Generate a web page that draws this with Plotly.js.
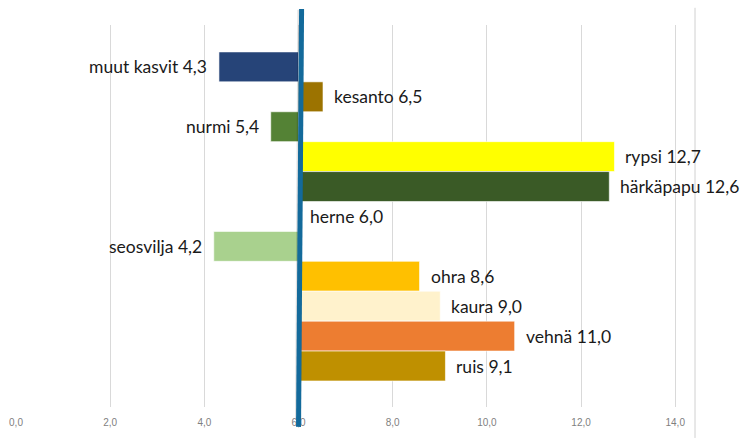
<!DOCTYPE html>
<html>
<head>
<meta charset="utf-8">
<script src="https://cdn.plot.ly/plotly-3.0.1.min.js"></script>
<style>html,body{margin:0;padding:0;background:#fff;}#chart{width:742px;height:438px;}</style>
</head>
<body>
<div id="chart"></div>
<script>
// Data
const categories = ["muut kasvit", "kesanto", "nurmi", "rypsi", "härkäpapu", "herne", "seosvilja", "ohra", "kaura", "vehnä", "ruis"];
const barEnds = [4.31, 6.52, 5.41, 12.71, 12.60, 6.0, 4.20, 8.57, 9.01, 10.59, 9.12];
const labelValues = ["4,3", "6,5", "5,4", "12,7", "12,6", "6,0", "4,2", "8,6", "9,0", "11,0", "9,1"];
const barColors = ["#264478", "#9c7300", "#548235", "#ffff00", "#3a5a26", "#ffffff", "#a9d18e", "#ffc000", "#fff2cc", "#ed7d31", "#bf9000"];
const baseValue = 6.0;
const xTicks = [0, 2, 4, 6, 8, 10, 12, 14];

const idx = categories.map((c, i) => i);

const trace = {
  type: "bar",
  orientation: "h",
  y: idx,
  x: barEnds.map(v => v - baseValue),
  base: barEnds.map(() => baseValue),
  marker: {color: barColors, line: {color: "rgba(255,255,255,0.6)", width: 1}},
  hoverinfo: "skip"
};

const annotations = categories.map((c, i) => {
  const left = barEnds[i] < baseValue;
  return {
    x: barEnds[i], y: i, xref: "x", yref: "y",
    text: c + " " + labelValues[i],
    showarrow: false,
    xanchor: left ? "right" : "left",
    xshift: left ? -10 : 9,
    font: {family: "Lato, Liberation Sans, Arial, sans-serif", size: 17.5, color: "#1a1a1a"}
  };
});

const layout = {
  width: 742, height: 438,
  margin: {l: 16.3, r: 46.7, t: 25, b: 31},
  paper_bgcolor: "#ffffff", plot_bgcolor: "#ffffff",
  separators: ", ",
  showlegend: false,
  bargap: 0,
  xaxis: {
    range: [0, 14.42],
    tickvals: xTicks,
    tickformat: ".1f",
    showgrid: true, gridcolor: "#d9d9d9", gridwidth: 1,
    zeroline: false, showline: false, ticks: "",
    ticklabelstandoff: 8,
    tickfont: {family: "Liberation Sans, Arial, sans-serif", size: 10, color: "#7f7f7f"},
    fixedrange: true
  },
  yaxis: {
    type: "linear",
    range: [11.37, -1.4],
    showgrid: false, zeroline: false, showticklabels: false, ticks: "", showline: false,
    fixedrange: true
  },
  annotations: annotations,
  shapes: [
    {type: "line", xref: "paper", yref: "paper", x0: 1, x1: 1, y0: -0.081, y1: 1.045,
     line: {color: "#d0d0d0", width: 1}},
    {type: "line", xref: "x", yref: "paper", x0: baseValue - 0.01, x1: baseValue + 0.04, y0: -0.03, y1: 1.04,
     line: {color: "rgba(0,0,0,0.12)", width: 6}},
    {type: "line", xref: "x", yref: "paper", x0: baseValue, x1: baseValue + 0.065, y0: -0.052, y1: 1.042,
     line: {color: "#136a9b", width: 5}}
  ]
};

Plotly.newPlot("chart", [trace], layout, {displayModeBar: false, staticPlot: true});
</script>
</body>
</html>
